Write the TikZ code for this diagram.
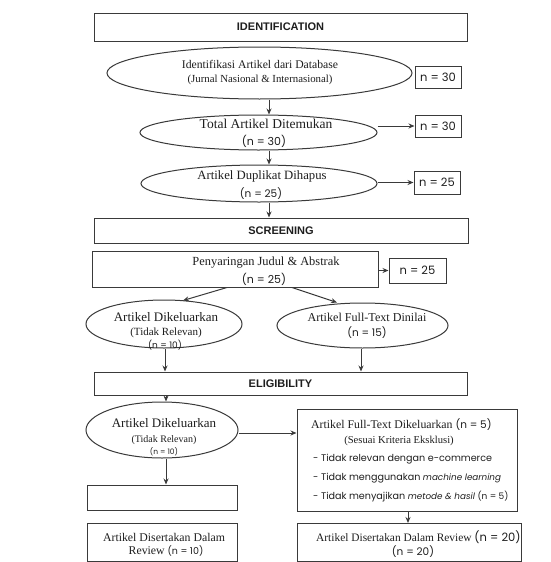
\documentclass[tikz,border=0pt]{standalone}
\usepackage{fontspec}
\setmainfont{Liberation Serif}
\newfontfamily\nsans{Poppins}
\newfontfamily\hsans{Liberation Sans}
\usetikzlibrary{shapes.geometric,arrows.meta,calc}
\definecolor{ln}{HTML}{3A3A3A}
\definecolor{tx}{HTML}{1E1E1E}
\newcommand{\fs}[2]{\fontsize{#1}{#2}\selectfont}
\newcommand{\nn}[2]{{\nsans\fontsize{#1}{#1}\selectfont #2}}
\begin{document}
\begin{tikzpicture}[x=1pt,y=-1pt,
  lnst/.style={draw=ln, line width=1pt},
  bar/.style={lnst, rectangle, inner sep=0pt, text=tx, font=\hsans\bfseries\fs{11}{13}},
  ell/.style={lnst, ellipse, inner sep=0pt, align=center, text=tx},
  box/.style={lnst, rectangle, inner sep=0pt, align=center, text=tx},
  nbox/.style={box, font=\nsans\fs{11.5}{13}},
  txt/.style={inner sep=0pt, text=tx},
  bul/.style={txt, anchor=west, font=\nsans\fs{9.6}{11}},
  arr/.style={draw=ln, line width=1pt, -{Stealth[length=6pt,width=5pt]}}]
\useasboundingbox[fill=white] (0,0) rectangle (551,562);

% IDENTIFICATION
\node[bar, minimum width=373pt, minimum height=28pt] (idbar) at (280.5,27) {IDENTIFICATION};
\node[ell, minimum width=305pt, minimum height=52pt] (e1) at (259.5,73) {};
\node[txt, font=\fs{11.7}{14}] (e1a) at (260,64) {Identifikasi Artikel dari Database};
\node[txt, font=\fs{10.8}{13}] (e1b) at (260,80) {(Jurnal Nasional \& Internasional)};
\node[nbox, minimum width=46pt, minimum height=22pt] (b1) at (438,77) {n = 30};

\node[ell, minimum width=237pt, minimum height=35pt] (e2) at (258.5,132.5) {};
\node[txt, font=\fs{13.5}{15}] (e2a) at (266,124) {Total Artikel Ditemukan};
\node[txt] (e2b) at (264,141) {\nn{11}{(n = 30)}};
\node[nbox, minimum width=46pt, minimum height=22pt] (b2) at (438,126) {n = 30};

\node[ell, minimum width=236pt, minimum height=37pt] (e3) at (259,183.5) {};
\node[txt, font=\fs{12.7}{15}] (e3a) at (262,176) {Artikel Duplikat Dihapus};
\node[txt] (e3b) at (261,194) {\nn{10.5}{(n = 25)}};
\node[nbox, minimum width=46pt, minimum height=23pt] (b3) at (437,182.5) {n = 25};

% SCREENING
\node[bar, minimum width=374pt, minimum height=25pt] (scbar) at (281,230.5) {SCREENING};
\node[box, minimum width=286pt, minimum height=36pt] (pen) at (235,269) {};
\node[txt, font=\fs{12.4}{15}] (pena) at (266,263) {Penyaringan Judul \& Abstrak};
\node[txt] (penb) at (264,279) {\nn{11}{(n = 25)}};
\node[nbox, minimum width=57pt, minimum height=25pt] (b4) at (417.5,270.5) {n = 25};

\node[ell, minimum width=156pt, minimum height=48pt] (el1) at (164,324) {};
\node[txt, font=\fs{13}{15}] (el1a) at (166,317) {Artikel Dikeluarkan};
\node[txt, font=\fs{11}{13}] (el1b) at (166,333) {(Tidak Relevan)};
\node[txt] (el1c) at (165,345) {\nn{9}{(n = 10)}};

\node[ell, minimum width=171pt, minimum height=45pt] (er1) at (362.5,325.5) {};
\node[txt, font=\fs{12.1}{15}] (er1a) at (367,317) {Artikel Full-Text Dinilai};
\node[txt] (er1b) at (367,333) {\nn{10.5}{(n = 15)}};

% ELIGIBILITY
\node[bar, minimum width=373pt, minimum height=23pt] (elbar) at (280.5,383.5) {ELIGIBILITY};

\node[ell, minimum width=152pt, minimum height=56pt] (el2) at (162,430) {};
\node[txt, font=\fs{13}{15}] (el2a) at (164,423) {Artikel Dikeluarkan};
\node[txt, font=\fs{10}{12}] (el2b) at (164,440) {(Tidak Relevan)};
\node[txt] (el2c) at (164,452) {\nn{7.5}{(n = 10)}};

\node[box, minimum width=220pt, minimum height=102pt] (fbox) at (407,460) {};
\node[txt, anchor=west, font=\fs{11.8}{13}] (f1) at (311,425) {Artikel Full-Text Dikeluarkan \nn{10.5}{(n = 5)}};
\node[txt, font=\fs{10.6}{12}] (f2) at (399,441) {(Sesuai Kriteria Eksklusi)};
\node[bul] (f3) at (313,459) {- Tidak relevan dengan e-commerce};
\node[bul] (f4) at (313,478) {- Tidak menggunakan {\fontsize{8.8}{11}\selectfont\itshape machine learning}};
\node[bul] (f5) at (313,497) {- Tidak menyajikan {\fontsize{8.8}{11}\selectfont\itshape metode \& hasil}\ {\fontsize{9}{11}\selectfont(n = 5)}};

\node[box, minimum width=224pt, minimum height=38pt] (rbox) at (409,542.5) {};
\begin{scope}
  \clip (rbox.north west) rectangle (rbox.south east);
  \node[txt, anchor=west, font=\fs{11.4}{13}] (r1) at (316,537) {Artikel Disertakan Dalam Review \nn{11.5}{(n = 20)}};
\end{scope}
\node[txt] (r2) at (413,552) {\nn{10.5}{(n = 20)}};

\node[box, minimum width=150pt, minimum height=25pt] (ebox) at (162,497.5) {};
\node[box, minimum width=150pt, minimum height=38pt] (lbox) at (162,542) {};
\node[txt, font=\fs{11.8}{13}] (l1) at (164,537) {Artikel Disertakan Dalam};
\node[txt, font=\fs{11.8}{13}] (l2) at (166,551) {Review \nn{9.5}{(n = 10)}};

% connectors
\draw[arr] ($(e1.south)+(9.5,0)$) -- ($(e2.north)+(10.5,0)$);
\draw[arr] (e2.east |- b2.west) -- (b2.west);
\draw[arr] ($(e2.south)+(10.5,0)$) -- ($(e3.north)+(10,0)$);
\draw[arr] (e3.east |- b3.west) -- (b3.west);
\draw[arr] ($(e3.south)+(10,0)$) -- ($(scbar.north)+(-12,0)$);
\draw[arr] (pen.east |- b4.west) -- (b4.west);
\draw[arr] ($(pen.south)+(-8,0)$) -- ($(el1.north)+(19,1)$);
\draw[arr] ($(pen.south)+(57,0)$) -- ($(er1.north)+(-25.5,0)$);
\draw[arr] ($(el1.south)+(1,0)$) -- ($(el1.south |- elbar.north)+(1,0)$);
\draw[arr] ($(er1.south)+(-1.5,0)$) -- ($(er1.south |- elbar.north)+(-1.5,0)$);
\draw[arr] ($(el2.north |- elbar.south)+(4,0)$) -- ($(el2.north)+(4,0)$);
\draw[arr] ($(el2.east)+(0,3)$) -- ($(el2.east -| fbox.west)+(0,3)$);
\draw[arr] ($(fbox.south)+(1,0)$) -- ($(fbox.south |- rbox.north)+(1,0)$);
\draw[arr] ($(el2.south)+(4,0)$) -- ($(ebox.north)+(4,0)$);
\end{tikzpicture}
\end{document}
